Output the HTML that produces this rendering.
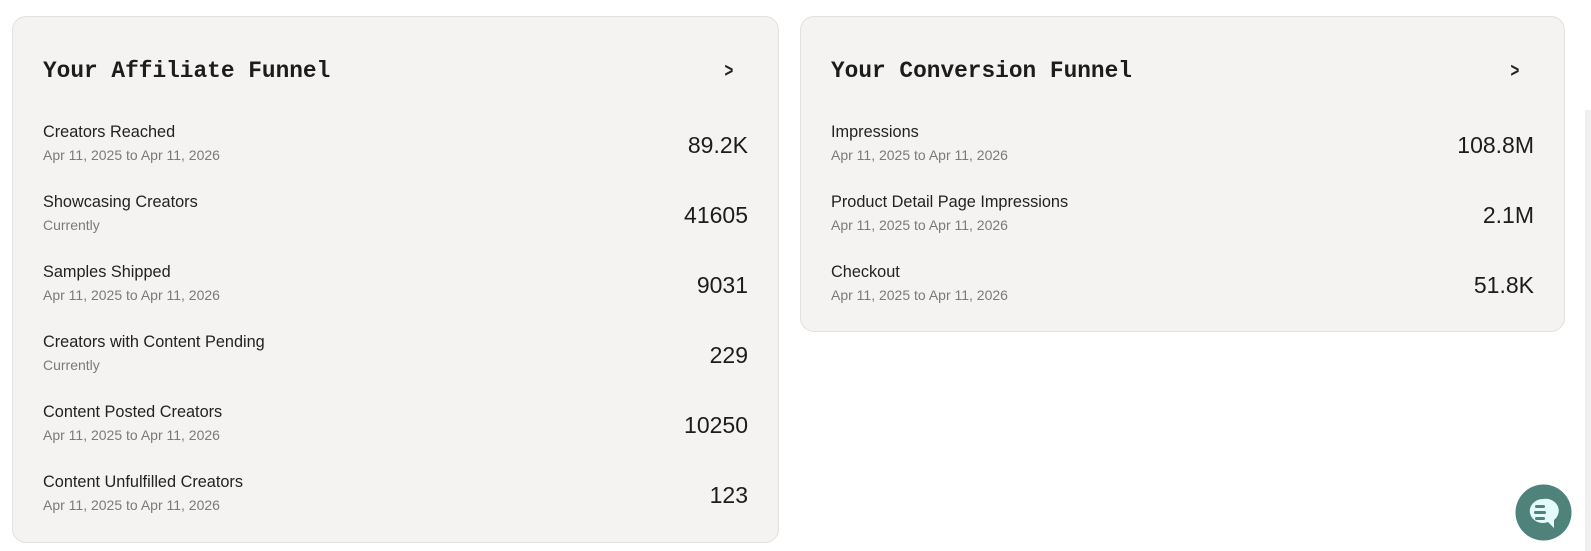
<!DOCTYPE html>
<html><head><style>
body{margin:0;width:1591px;height:551px;background:#fff;position:relative;overflow:hidden;font-family:"Liberation Sans",sans-serif;}
.card{position:absolute;background:#f4f3f2;border:1px solid #e2e1df;border-radius:14px;box-sizing:border-box;}
.t{position:absolute;left:30px;top:41px;font-family:"Liberation Mono","DejaVu Sans Mono",monospace;font-weight:bold;font-size:22.8px;color:#1c1c1c;}
.ch{position:absolute;top:43px;font-size:20px;font-weight:bold;color:#222;transform:scaleX(0.75);}
.row{position:absolute;left:30px;right:30px;height:50px;}
.l{position:absolute;left:0;top:2px;font-size:16.3px;color:#222;}
.s{position:absolute;left:0;top:25.5px;font-size:14px;color:#7a7a7a;}
.v{position:absolute;right:0;top:11px;font-size:23px;color:#1c1c1c;}
</style></head><body>
<div class="card" style="left:12px;top:16px;width:767px;height:527px;">
<div class="t">Your Affiliate Funnel</div><div class="ch" style="left:710px">&gt;</div>
<div class="row" style="top:104px"><div class="l">Creators Reached</div><div class="s">Apr 11, 2025 to Apr 11, 2026</div><div class="v">89.2K</div></div>
<div class="row" style="top:174px"><div class="l">Showcasing Creators</div><div class="s">Currently</div><div class="v">41605</div></div>
<div class="row" style="top:244px"><div class="l">Samples Shipped</div><div class="s">Apr 11, 2025 to Apr 11, 2026</div><div class="v">9031</div></div>
<div class="row" style="top:314px"><div class="l">Creators with Content Pending</div><div class="s">Currently</div><div class="v">229</div></div>
<div class="row" style="top:384px"><div class="l">Content Posted Creators</div><div class="s">Apr 11, 2025 to Apr 11, 2026</div><div class="v">10250</div></div>
<div class="row" style="top:454px"><div class="l">Content Unfulfilled Creators</div><div class="s">Apr 11, 2025 to Apr 11, 2026</div><div class="v">123</div></div>
</div>
<div class="card" style="left:800px;top:16px;width:765px;height:316px;">
<div class="t">Your Conversion Funnel</div><div class="ch" style="left:708px">&gt;</div>
<div class="row" style="top:104px"><div class="l">Impressions</div><div class="s">Apr 11, 2025 to Apr 11, 2026</div><div class="v">108.8M</div></div>
<div class="row" style="top:174px"><div class="l">Product Detail Page Impressions</div><div class="s">Apr 11, 2025 to Apr 11, 2026</div><div class="v">2.1M</div></div>
<div class="row" style="top:244px"><div class="l">Checkout</div><div class="s">Apr 11, 2025 to Apr 11, 2026</div><div class="v">51.8K</div></div>
</div>
<div style="position:absolute;left:1585px;top:110px;width:6px;height:441px;background:#f0f0f0"></div>
<svg style="position:absolute;left:1515px;top:484px" width="57" height="57" viewBox="0 0 57 57">
<circle cx="28.5" cy="28.5" r="28" fill="#4f827b"/>
<path d="M28 15a13 12 0 1 0 5 23l6 6v-8a13 12 0 0 0-11-21z" fill="#e4fbfb"/>
<rect x="20" y="21" width="10" height="3" rx="1.5" fill="#4f827b"/>
<rect x="19" y="27" width="12" height="3" rx="1.5" fill="#4f827b"/>
<rect x="20" y="33" width="10" height="3" rx="1.5" fill="#4f827b"/>
</svg>
</body></html>
